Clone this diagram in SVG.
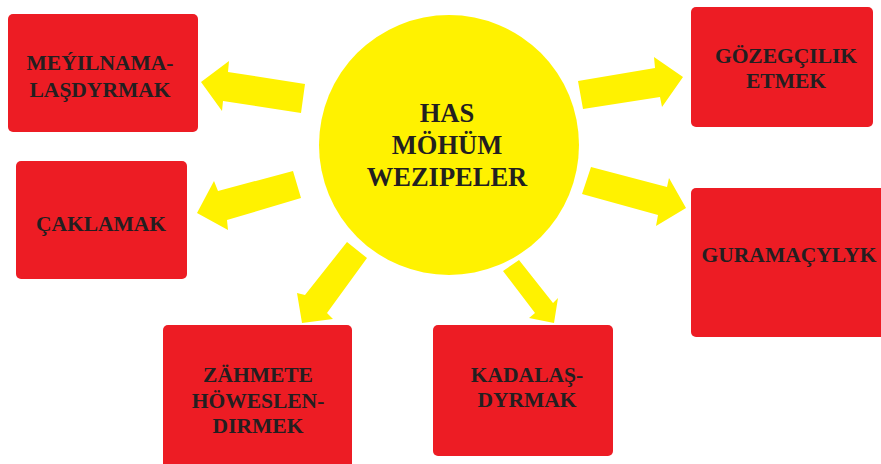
<svg xmlns="http://www.w3.org/2000/svg" width="881" height="464" viewBox="0 0 881 464">
<style>
.box{fill:#ED1C24;}
.lbl{font-family:"Liberation Serif","Times New Roman",serif;font-weight:bold;font-size:21.5px;fill:#231F20;text-anchor:middle;}
.ctr{font-family:"Liberation Serif","Times New Roman",serif;font-weight:bold;font-size:26.5px;fill:#231F20;text-anchor:middle;}
.arr{fill:#FFF200;}
</style>
<rect width="881" height="464" fill="#ffffff"/>
<g id="connectors">
<polygon class="arr" points="305,84 228,72 229,61 201,82 222,111 223,101 301,113"/>
<polygon class="arr" points="293,171 218,191 214,181 197,213 228,230 227,220 301,198"/>
<polygon class="arr" points="578,81 655,68 654,57 683,77 662,107 660,97 583,109"/>
<polygon class="arr" points="591,167 667,187 669,178 686,208 656,226 658,215 582,194"/>
<polygon class="arr" points="347,242 305,295 297,293 302,323 333,319 327,313 367,258"/>
<polygon class="arr" points="503,271 535,313 529,318 554,323 558,298 553,303 519,260"/>
</g>
<g id="center">
<circle cx="449" cy="145" r="130" fill="#FFF200"/>
<text class="ctr" x="447" y="122">HAS</text>
<text class="ctr" x="447" y="154">MÖHÜM</text>
<text class="ctr" x="447" y="186">WEZIPELER</text>
</g>
<g id="meyilnamalasdyrmak">
<rect class="box" x="8" y="14" width="190" height="118" rx="5"/>
<text class="lbl" x="100" y="70">MEÝILNAMA-</text>
<text class="lbl" x="100" y="97">LAŞDYRMAK</text>
</g>
<g id="caklamak">
<rect class="box" x="16" y="161" width="171" height="118" rx="5"/>
<text class="lbl" x="101" y="231">ÇAKLAMAK</text>
</g>
<g id="gozegcilik">
<rect class="box" x="691" y="7" width="182" height="120" rx="5"/>
<text class="lbl" x="786" y="63">GÖZEGÇILIK</text>
<text class="lbl" x="786" y="88">ETMEK</text>
</g>
<g id="guramacylyk">
<rect class="box" x="691" y="188" width="200" height="149" rx="5"/>
<text class="lbl" x="789" y="262">GURAMAÇYLYK</text>
</g>
<g id="zahmete">
<rect class="box" x="163" y="325" width="189" height="150" rx="5"/>
<text class="lbl" x="258" y="382">ZÄHMETE</text>
<text class="lbl" x="258" y="408">HÖWESLEN-</text>
<text class="lbl" x="258" y="433">DIRMEK</text>
</g>
<g id="kadalasdyrmak">
<rect class="box" x="433" y="325" width="180" height="131" rx="5"/>
<text class="lbl" x="527" y="382">KADALAŞ-</text>
<text class="lbl" x="527" y="407">DYRMAK</text>
</g>
</svg>
